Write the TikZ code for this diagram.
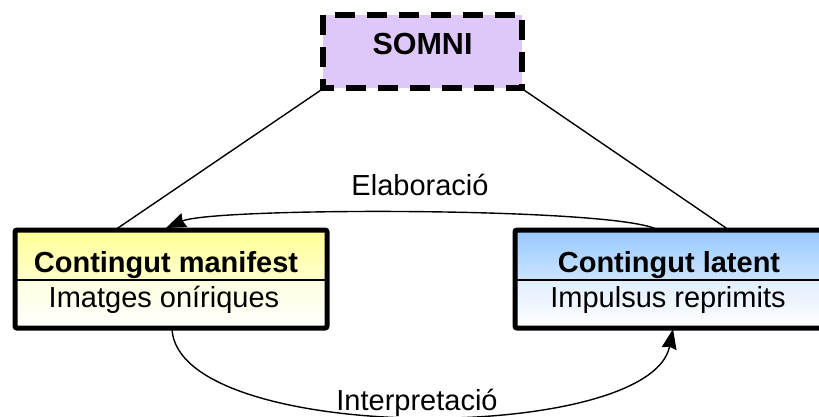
\documentclass[tikz,border=0pt]{standalone}
\usepackage{fontspec}
\setmainfont{Liberation Sans}
\usetikzlibrary{arrows.meta}
\definecolor{lila}{RGB}{222,200,250}
\definecolor{yelA}{RGB}{255,255,150}
\definecolor{yelB}{RGB}{255,255,205}
\definecolor{yelC}{RGB}{255,255,225}
\definecolor{bluA}{RGB}{150,200,255}
\definecolor{bluB}{RGB}{205,228,255}
\definecolor{bluC}{RGB}{225,238,255}
\tikzset{
  part/.style={inner sep=0pt, outer sep=0pt},
  frame/.style={line width=5pt, rounded corners=2pt},
  divider/.style={line width=2pt},
  txt/.style={anchor=base, inner sep=0pt, font=\fontsize{29}{31}\selectfont},
  btxt/.style={txt, font=\fontsize{29}{31}\selectfont\bfseries},
  conn/.style={line width=1.4pt},
  arr/.style={conn, -{Stealth[length=20pt,width=15pt,inset=2pt]}},
}
\begin{document}
\begin{tikzpicture}[x=1pt,y=-1pt]
\useasboundingbox (0,0) rectangle (819,417);
\clip (0,0) rectangle (819,417);
% SOMNI
\node[part, fill=lila, minimum width=199pt, minimum height=73pt] (somni) at (422.5,51.5) {};
\draw[line width=5.5pt, dash pattern=on 20pt off 12pt] (somni.north west) rectangle (somni.south east);
\node[btxt, font=\fontsize{30.5}{32}\selectfont\bfseries] (somnit) at (422.5,55) {SOMNI};
% left box
\node[part, top color=yelA, bottom color=yelB, minimum width=312pt, minimum height=50pt] (mtop) at (171,255) {};
\node[part, top color=yelC, bottom color=white, minimum width=312pt, minimum height=48pt] (mbot) at (171,304) {};
\draw[divider] (mtop.south west) -- (mtop.south east);
\draw[frame] (mtop.north west) rectangle (mbot.south east);
\node[btxt] (mt) at (166,272) {Contingut manifest};
\node[txt] (mb) at (164,307) {Imatges oníriques};
% right box
\node[part, top color=bluA, bottom color=bluB, minimum width=308pt, minimum height=50pt] (ltop) at (669,255) {};
\node[part, top color=bluC, bottom color=white, minimum width=308pt, minimum height=48pt] (lbot) at (669,304) {};
\draw[divider] (ltop.south west) -- (ltop.south east);
\draw[frame] (ltop.north west) rectangle (lbot.south east);
\node[btxt] (lt) at (669,272) {Contingut latent};
\node[txt] (lb) at (668,307) {Impulsus reprimits};
% connectors
\coordinate (sl) at (324,88);
\coordinate (sr) at (521,88);
\draw[conn] (sl) -- (mtop.north west -| 115,0);
\draw[conn] (sr) -- (ltop.north west -| 729,0);
\coordinate (e1) at (658,230);
\coordinate (e2) at (166,228);
\draw[arr] (e1) .. controls (620,207) and (215,207) .. (e2);
\node[txt] (elab) at (420,195) {Elaboració};
\coordinate (i1) at (172,329);
\coordinate (i2) at (673,329);
\draw[arr] (i1) .. controls (178,445) and (650,445) .. (i2);
\node[txt] (interp) at (417,410) {Interpretació};
\end{tikzpicture}
\end{document}
